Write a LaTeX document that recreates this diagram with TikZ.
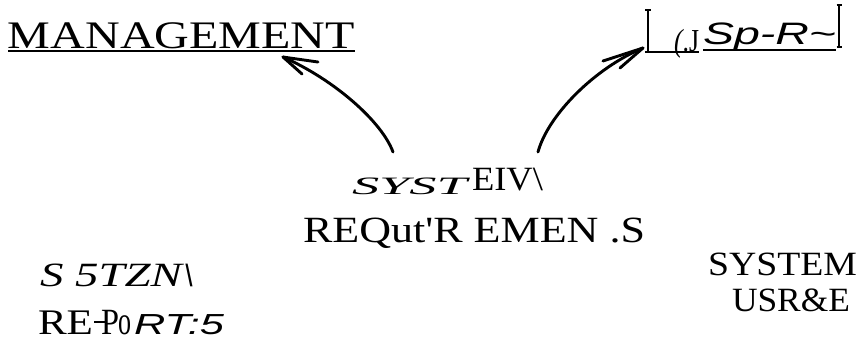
\documentclass[tikz,border=0pt]{standalone}
\usepackage{fontspec}
\usepackage{graphicx}
\setmainfont{Liberation Serif}
\newfontfamily\sansfam{Liberation Sans}
% set text at a given size, stretched horizontally to a given width
\newcommand{\wtext}[3]{\resizebox{#1}{\height}{\fontsize{#2}{#2}\selectfont #3}}
\begin{document}
\begin{tikzpicture}[x=1pt,y=-1pt,
  lbl/.style={inner sep=0pt, outer sep=0pt, anchor=base west},
  sketch/.style={line width=2.9pt, line cap=round, line join=round},
  rule/.style={line width=2pt},
  bar/.style={line width=1.3pt}]
\fill[white] (0,0) rectangle (867,343);
\useasboundingbox (0,0) rectangle (867,343);

% headings
\node[lbl] (mgmt) at (8,48) {\wtext{347pt}{39}{MANAGEMENT}};
\draw[rule] ([yshift=-3pt]mgmt.base west) -- ([yshift=-3pt]mgmt.base east);

\node[lbl] (cj) at (674,51) {\wtext{25pt}{32}{\itshape(\upshape.J}};
\node[lbl] (spr) at (703,44) {\wtext{133pt}{31}{\sansfam\itshape Sp-R\textasciitilde}};
\draw[rule] ([yshift=-6pt]spr.base west) -- ([yshift=-6pt]spr.base east);
% bracket strokes around the top-right label
\coordinate (lbTop) at (648,10);
\coordinate (lbBot) at (648,52);
\draw[bar] (lbTop) -- (lbBot);
\draw[bar] ([xshift=-3pt]lbTop) -- ([xshift=3pt]lbTop);
\draw[bar] ([xshift=-3pt]lbBot) -- ([xshift=3pt]lbBot);
\draw[bar] (lbBot) -- (cj.base east |- lbBot);
\coordinate (rbTop) at (839,5);
\coordinate (rbBot) at (839,47);
\draw[bar] (rbTop) -- (rbBot);
\draw[bar] ([xshift=-2.5pt]rbTop) -- ([xshift=2.5pt]rbTop);
\draw[bar] ([xshift=-2.5pt]rbBot) -- ([xshift=2.5pt]rbBot);

% centre label
\node[lbl] (syst) at (352,194) {\wtext{115pt}{25}{\itshape SYST}};
\node[lbl] (eiv) at (472,190) {\wtext{71pt}{34}{EIV\textbackslash}};
\node[lbl] (req) at (303,242) {\wtext{342pt}{37}{REQut\textquotesingle R EMEN .S}};

% lower left label
\node[lbl] (stzn) at (40,286) {\wtext{155pt}{34}{\itshape S 5TZN\textbackslash}};
\node[lbl] (re) at (38,334) {\wtext{55pt}{36}{RE}};
\node[lbl] (pp) at (101,334) {\wtext{18pt}{37}{P}};
\node[lbl] (oo) at (118,334) {\wtext{13pt}{40}{o}};
\node[lbl] (rt) at (134,334) {\wtext{90pt}{29}{\sansfam\itshape RT:5}};
% short stroke through the P
\draw[line width=1.1pt] ([shift={(-7pt,12pt)}]pp.base west) -- ([shift={(6pt,12pt)}]pp.base west);

% lower right label
\node[lbl] (sys) at (708,275) {\wtext{149pt}{34}{SYSTEM}};
\node[lbl] (usr) at (732,311) {\wtext{118pt}{34}{USR\&E}};

% hand-drawn arrows
\coordinate (a1s) at (393,152);
\coordinate (a1t) at (283,57);
\draw[sketch] (a1s) .. controls (382,122) and (335,80) .. (a1t);
\draw[sketch] (318,62) -- (a1t) -- (302,74);

\coordinate (a2s) at (538,152);
\coordinate (a2t) at (643,48);
\draw[sketch] (a2s) .. controls (548,115) and (595,68) .. (a2t);
\draw[sketch] (603,61) -- (a2t) -- (620,68);
\end{tikzpicture}
\end{document}
